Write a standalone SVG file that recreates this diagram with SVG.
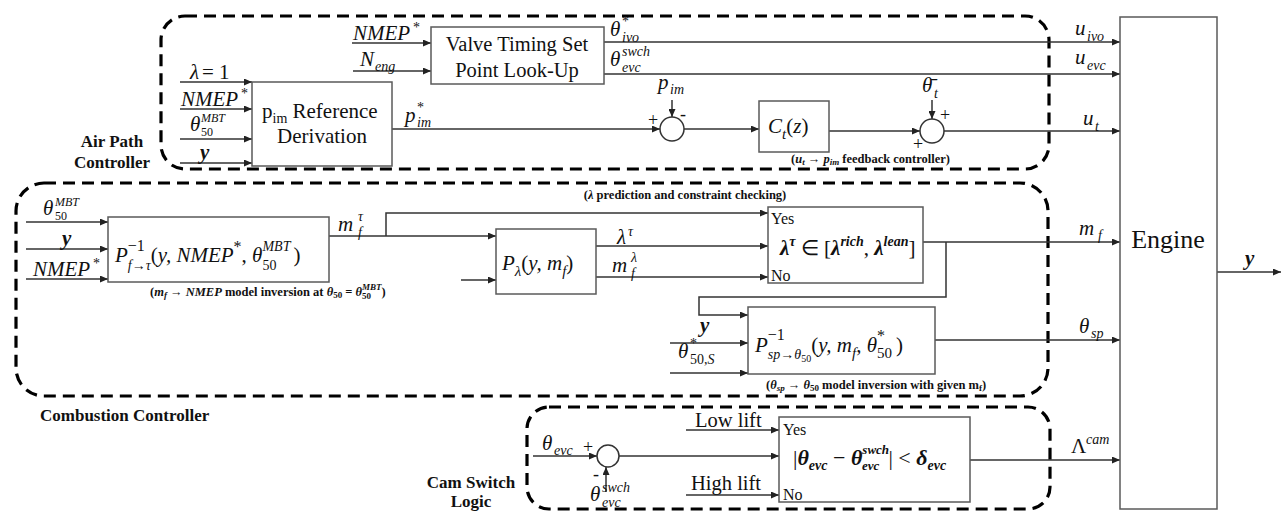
<svg xmlns="http://www.w3.org/2000/svg" width="1283" height="511" viewBox="0 0 1283 511">
<defs>
<marker id="ah" markerWidth="8" markerHeight="7" refX="8" refY="3.5" orient="auto" markerUnits="userSpaceOnUse"><path d="M0,0 L8,3.5 L0,7 z" fill="#222"/></marker>
<style>
.box{fill:#fff;stroke:#5a5a5a;stroke-width:1.5}
.ln{fill:none;stroke:#333;stroke-width:1.5}
.ar{fill:none;stroke:#333;stroke-width:1.5;marker-end:url(#ah)}
.dash{fill:none;stroke:#000;stroke-width:3.2;stroke-dasharray:12 7}
.sum{fill:#fff;stroke:#333;stroke-width:1.5}
text{font-family:"Liberation Serif","Times New Roman",serif;fill:#111}
.m{font-style:italic;font-size:21px}
.sc{font-size:14px}
.ss{font-size:12px}
.up{font-style:normal}
.n{font-style:normal;font-weight:normal}
.bi{font-weight:bold;font-style:italic}
.t{font-size:20.5px}
.grp{font-weight:bold;font-size:17px}
.cap{font-weight:bold;font-size:12.5px}
.yn{font-size:16px}
.pm{font-size:18px}
</style>
</defs>
<rect width="1283" height="511" fill="#fff"/>

<g id="containers">
<rect class="dash" x="161" y="16" width="888" height="153" rx="24"/>
<rect class="dash" x="16" y="183" width="1032" height="213" rx="28"/>
<rect class="dash" x="527" y="407" width="523" height="102" rx="22"/>
<text class="grp" x="112" y="147" text-anchor="middle">Air Path</text>
<text class="grp" x="112" y="168" text-anchor="middle">Controller</text>
<text class="grp" x="40" y="421">Combustion Controller</text>
<text class="grp" x="471" y="488" text-anchor="middle">Cam Switch</text>
<text class="grp" x="471" y="507" text-anchor="middle">Logic</text>
</g>

<g id="connectors">
<path class="ar" d="M180,82 H252"/>
<path class="ar" d="M180,109 H252"/>
<path class="ar" d="M180,139 H252"/>
<path class="ar" d="M180,163 H252"/>
<path class="ar" d="M352,43 H431"/>
<path class="ar" d="M353,71 H431"/>
<path class="ar" d="M604,42 H1120"/>
<path class="ar" d="M604,74 H1120"/>
<path class="ar" d="M392,129 H660"/>
<path class="ar" d="M672,100 V117"/>
<path class="ar" d="M684,129 H759"/>
<path class="ar" d="M829,131 H920"/>
<path class="ar" d="M932,100 V119"/>
<path class="ar" d="M944,131 H1120"/>
<path class="ar" d="M26,222 H108"/>
<path class="ar" d="M26,249 H108"/>
<path class="ar" d="M26,279 H108"/>
<path class="ar" d="M329,236 H496"/>
<path class="ar" d="M386,236 V213 H768"/>
<path class="ar" d="M461,280 H496"/>
<path class="ar" d="M596,246 H768"/>
<path class="ar" d="M596,277 H768"/>
<path class="ar" d="M923,242 H1120"/>
<path class="ar" d="M946,242 V297 H699 V315 H748"/>
<path class="ar" d="M670,343 H748"/>
<path class="ar" d="M670,373 H748"/>
<path class="ar" d="M935,340 H1120"/>
<path class="ar" d="M533,456 H597"/>
<path class="ar" d="M606,492 V467"/>
<path class="ar" d="M619,456 H779"/>
<path class="ar" d="M686,430 H779"/>
<path class="ar" d="M686,495 H779"/>
<path class="ar" d="M970,460 H1120"/>
<path class="ar" d="M1217,272 H1281"/>
</g>

<g id="valve-timing">
<rect class="box" x="431" y="27" width="173" height="57"/>
<text class="t" x="517" y="51" text-anchor="middle">Valve Timing Set</text>
<text class="t" x="517" y="77" text-anchor="middle">Point Look-Up</text>
</g>

<g id="pim-reference">
<rect class="box" x="252" y="82" width="140" height="84"/>
<text font-size="21" x="262" y="118">p<tspan font-size="14" dy="5">im</tspan><tspan dy="-5"> Reference</tspan></text>
<text font-size="21" x="322" y="143" text-anchor="middle">Derivation</text>
</g>

<g id="sum-pim">
<circle class="sum" cx="672" cy="129" r="12"/>
<text class="pm" x="648" y="126">+</text>
<text class="pm" x="680" y="120">-</text>
</g>

<g id="ct">
<rect class="box" x="759" y="101" width="70" height="51"/>
<text class="m" font-size="24" x="768" y="133">C<tspan font-size="15" dy="6">t</tspan><tspan class="up" dy="-6">(</tspan>z<tspan class="up">)</tspan></text>
</g>

<g id="sum-throttle">
<circle class="sum" cx="932" cy="131" r="12"/>
<text class="pm" x="940" y="121">+</text>
<text class="pm" x="913" y="150">+</text>
</g>

<g id="p-inverse">
<rect class="box" x="108" y="217" width="221" height="65"/>
<text class="m" font-size="25" x="115" y="262">P<tspan class="up" font-size="16" dy="-11">−1</tspan><tspan font-size="14" dx="-17" dy="19">f→τ</tspan><tspan class="up" dy="-8">(</tspan>y, NMEP<tspan class="up" font-size="16" dy="-10">*</tspan><tspan class="up" dy="10">, </tspan>θ<tspan font-size="14" dy="-11">MBT</tspan><tspan class="up" font-size="14" dx="-28" dy="19">50</tspan><tspan class="up" dx="17" dy="-8">)</tspan></text>
</g>

<g id="p-lambda">
<rect class="box" x="496" y="229" width="100" height="65"/>
<text class="m" font-size="25" x="502" y="270">P<tspan font-size="15" dy="6">λ</tspan><tspan class="up" dy="-6">(</tspan>y, m<tspan font-size="15" dy="6">f</tspan><tspan class="up" dy="-6">)</tspan></text>
</g>

<g id="lambda-check">
<rect class="box" x="768" y="207" width="155" height="76"/>
<text class="yn" x="771" y="224">Yes</text>
<text class="yn" x="771" y="281">No</text>
<text class="bi" font-size="21" x="780" y="255">λ<tspan font-size="14" dy="-9">τ</tspan><tspan class="n" dy="9"> ∈ [</tspan>λ<tspan font-size="14" dy="-9">rich</tspan><tspan class="n" dy="9">, </tspan>λ<tspan font-size="14" dy="-9">lean</tspan><tspan class="n" dy="9">]</tspan></text>
</g>

<g id="p-sp">
<rect class="box" x="748" y="307" width="187" height="67"/>
<text class="m" font-size="26" x="755" y="352">P<tspan class="up" font-size="16" dy="-12">−1</tspan><tspan font-size="14" dx="-17" dy="19">sp→θ</tspan><tspan class="up" font-size="10" dy="3">50</tspan><tspan class="up" dy="-10">(</tspan>y, m<tspan font-size="15" dy="6">f</tspan><tspan class="up" dy="-6">, </tspan>θ<tspan class="up" font-size="16" dy="-11">*</tspan><tspan class="up" font-size="15" dx="-8" dy="17">50</tspan><tspan class="up" dx="4" dy="-6">)</tspan></text>
</g>

<g id="sum-cam">
<circle class="sum" cx="608" cy="456" r="11"/>
<text class="pm" x="583" y="453">+</text>
<text class="pm" x="593" y="480">-</text>
</g>

<g id="cam-check">
<rect class="box" x="779" y="417" width="191" height="85"/>
<text class="yn" x="783" y="435">Yes</text>
<text class="yn" x="783" y="500">No</text>
<text class="bi" font-size="22" x="793" y="465"><tspan class="n">|</tspan>θ<tspan font-size="14" dy="5">evc</tspan><tspan class="n" dy="-5"> − </tspan>θ<tspan font-size="13" dy="-11">swch</tspan><tspan font-size="13" dx="-27" dy="16">evc</tspan><tspan class="n" dx="9" dy="-5">| &lt; </tspan>δ<tspan font-size="14" dy="5">evc</tspan></text>
</g>

<g id="engine">
<rect class="box" x="1120" y="17" width="97" height="492"/>
<text font-size="26" x="1168" y="248" text-anchor="middle">Engine</text>
</g>

<g id="labels">
<text class="m" font-size="22"><tspan x="190" y="79">λ</tspan><tspan class="up" x="202" y="79">= 1</tspan></text>
<text class="m"><tspan x="181" y="106">NMEP</tspan><tspan class="up sc" x="241" y="98">*</tspan></text>
<text class="m"><tspan x="190" y="131">θ</tspan><tspan class="ss" x="201" y="122">MBT</tspan><tspan class="ss up" x="201" y="136">50</tspan></text>
<text class="m bi" font-size="22" x="200" y="159">y</text>
<text class="m"><tspan x="353" y="40">NMEP</tspan><tspan class="up sc" x="413" y="32">*</tspan></text>
<text class="m"><tspan x="360" y="66">N</tspan><tspan class="sc" x="375" y="71">eng</tspan></text>
<text class="m"><tspan x="610" y="36">θ</tspan><tspan class="up sc" x="622" y="26">*</tspan><tspan class="sc" x="622" y="42">ivo</tspan></text>
<text class="m"><tspan x="610" y="66">θ</tspan><tspan class="sc" x="622" y="56">swch</tspan><tspan class="sc" x="622" y="72">evc</tspan></text>
<text class="m"><tspan x="405" y="122">p</tspan><tspan class="up sc" x="417" y="112">*</tspan><tspan class="sc" x="417" y="127">im</tspan></text>
<text class="m"><tspan x="658" y="89">p</tspan><tspan class="sc" x="670" y="94">im</tspan></text>
<text class="m"><tspan x="922" y="92">θ&#772;</tspan><tspan class="sc" x="934" y="98">t</tspan></text>
<text class="m" font-size="22"><tspan x="1075" y="35">u</tspan><tspan class="sc" x="1087" y="41">ivo</tspan></text>
<text class="m" font-size="22"><tspan x="1075" y="64">u</tspan><tspan class="sc" x="1087" y="70">evc</tspan></text>
<text class="m" font-size="22"><tspan x="1083" y="125">u</tspan><tspan class="sc" x="1095" y="131">t</tspan></text>
<text class="cap"><tspan x="791" y="163">(</tspan><tspan font-style="italic">u</tspan><tspan font-style="italic" font-size="9" dy="2">t</tspan><tspan dy="-2"> → </tspan><tspan font-style="italic">p</tspan><tspan font-style="italic" font-size="9" dy="2">im</tspan><tspan dy="-2"> feedback controller)</tspan></text>

<text class="m"><tspan x="43" y="215">θ</tspan><tspan class="ss" x="55" y="206">MBT</tspan><tspan class="ss up" x="55" y="220">50</tspan></text>
<text class="m bi" font-size="22" x="62" y="245">y</text>
<text class="m"><tspan x="33" y="276">NMEP</tspan><tspan class="up sc" x="93" y="268">*</tspan></text>
<text class="m"><tspan x="338" y="231">m</tspan><tspan class="sc" x="358" y="221">τ</tspan><tspan class="sc" x="358" y="237">f</tspan></text>
<text class="cap"><tspan x="150" y="296">(</tspan><tspan font-style="italic">m</tspan><tspan font-style="italic" font-size="9" dy="2">f</tspan><tspan dy="-2"> → </tspan><tspan font-style="italic">NMEP</tspan><tspan> model inversion at </tspan><tspan font-style="italic">θ</tspan><tspan font-size="9" dy="2">50</tspan><tspan dy="-2"> = </tspan><tspan font-style="italic">θ</tspan><tspan font-size="9" dy="3">50</tspan><tspan font-style="italic" font-size="9" dx="-9" dy="-9">MBT</tspan><tspan dy="6">)</tspan></text>
<text class="cap" x="685" y="199" text-anchor="middle">(<tspan font-style="italic">λ</tspan> prediction and constraint checking)</text>
<text class="m"><tspan x="617" y="244">λ</tspan><tspan class="sc" x="628" y="236">τ</tspan></text>
<text class="m"><tspan x="612" y="272">m</tspan><tspan class="sc" x="631" y="262">λ</tspan><tspan class="sc" x="631" y="278">f</tspan></text>
<text class="m bi" font-size="24" x="700" y="332">y</text>
<text class="m"><tspan x="678" y="358">θ</tspan><tspan class="up sc" x="690" y="348">*</tspan><tspan class="sc" x="690" y="364"><tspan class="up">50,</tspan>S</tspan></text>
<text class="cap"><tspan x="766" y="389">(</tspan><tspan font-style="italic">θ</tspan><tspan font-style="italic" font-size="9" dy="2">sp</tspan><tspan dy="-2"> → </tspan><tspan font-style="italic">θ</tspan><tspan font-size="9" dy="2">50</tspan><tspan dy="-2"> model inversion with given m</tspan><tspan font-size="9" dy="2">f</tspan><tspan dy="-2">)</tspan></text>
<text class="m"><tspan x="1079" y="235">m</tspan><tspan class="sc" x="1098" y="240">f</tspan></text>
<text class="m"><tspan x="1079" y="333">θ</tspan><tspan class="sc" x="1091" y="338">sp</tspan></text>
<text class="m"><tspan class="up" x="1071" y="453">Λ</tspan><tspan class="sc" x="1086" y="444">cam</tspan></text>
<text class="m bi" font-size="24" x="1245" y="265">y</text>

<text class="m"><tspan x="542" y="450">θ</tspan><tspan class="sc" x="554" y="455">evc</tspan></text>
<text class="m"><tspan x="590" y="501">θ</tspan><tspan class="sc" x="602" y="492">swch</tspan><tspan class="sc" x="602" y="507">evc</tspan></text>
<text class="t" x="695" y="427">Low lift</text>
<text class="t" x="691" y="490">High lift</text>
</g>
</svg>
